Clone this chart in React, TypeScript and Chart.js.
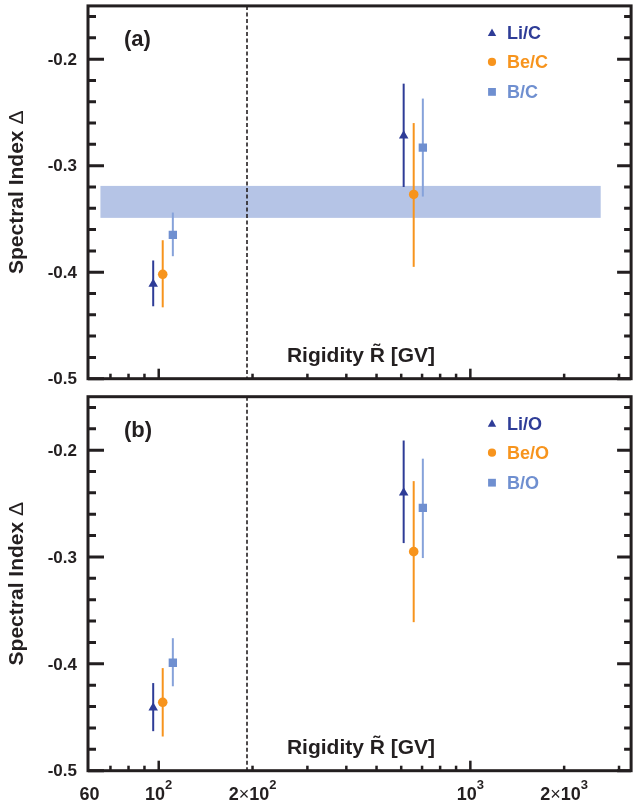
import React, { useEffect, useRef } from 'react';
import { Chart, registerables } from 'chart.js';

Chart.register(...registerables);

const FONT = '"Liberation Sans", Arial, Helvetica, sans-serif';
const INK = '#231f20';
const LI_COLOR = '#2e3c97';
const BE_COLOR = '#f7941d';
const B_COLOR = '#6f8fd0';
const B_BAR_COLOR = '#86a2da';
const BAND_COLOR = '#b5c4e6';

// axes
const X_MIN = 59.3;
const X_MAX = 3280;
const Y_MIN = -0.5;
const Y_MAX = -0.15;
const Y_MAJOR = [-0.5, -0.4, -0.3, -0.2];
const Y_TICK_LABELS = ['-0.5', '-0.4', '-0.3', '-0.2'];
const Y_MINOR = [-0.48, -0.46, -0.44, -0.42, -0.38, -0.36, -0.34, -0.32, -0.28, -0.26, -0.24, -0.22, -0.18, -0.16];
const X_TICK_VALUES = [60, 100, 200, 1000, 2000];
const X_TICK_LABELS = ['60', '10^2', '2×10^2', '10^3', '2×10^3'];
const X_MAJOR_MARKS = [100, 1000];
const X_MINOR_MARKS = [70, 80, 90, 200, 300, 400, 500, 600, 700, 800, 900, 2000, 3000];
const BREAK_RIGIDITY = 192;
const X_TITLE = 'Rigidity R\u0303 [GV]';
const Y_TITLE = 'Spectral Index ';
const Y_TITLE_SYMBOL = 'Δ';

// band in panel (a)
const BAND_X = [65, 2620];
const BAND_Y = [-0.349, -0.319];

// panel (a): ratios to C
const LIC_X = [96, 611];
const LIC_Y = [-0.411, -0.272];
const LIC_LO = [-0.432, -0.320];
const LIC_HI = [-0.389, -0.223];

const BEC_X = [103, 658];
const BEC_Y = [-0.402, -0.327];
const BEC_LO = [-0.433, -0.395];
const BEC_HI = [-0.370, -0.260];

const BC_X = [111, 704];
const BC_Y = [-0.365, -0.283];
const BC_LO = [-0.385, -0.329];
const BC_HI = [-0.344, -0.237];

// panel (b): ratios to O
const LIO_X = [96, 611];
const LIO_Y = [-0.441, -0.240];
const LIO_LO = [-0.463, -0.287];
const LIO_HI = [-0.418, -0.191];

const BEO_X = [103, 658];
const BEO_Y = [-0.436, -0.295];
const BEO_LO = [-0.468, -0.361];
const BEO_HI = [-0.404, -0.229];

const BO_X = [111, 704];
const BO_Y = [-0.399, -0.254];
const BO_LO = [-0.421, -0.301];
const BO_HI = [-0.376, -0.208];

function series(xs: number[], ys: number[], lo: number[], hi: number[]) {
  return xs.map((x, i) => ({ x, y: ys[i], yLo: lo[i], yHi: hi[i] }));
}

function makeDatasets(names: string[], sets: any[][]) {
  const styles = [
    { pointStyle: 'triangle', pointRadius: 5.5, color: LI_COLOR, bar: LI_COLOR },
    { pointStyle: 'circle', pointRadius: 4.8, color: BE_COLOR, bar: BE_COLOR },
    { pointStyle: 'rect', pointRadius: 5.9, color: B_COLOR, bar: B_BAR_COLOR },
  ];
  return names.map((name, i) => ({
    label: name,
    data: sets[i],
    pointStyle: styles[i].pointStyle,
    pointRadius: styles[i].pointRadius,
    pointHoverRadius: styles[i].pointRadius,
    backgroundColor: styles[i].color,
    borderColor: styles[i].color,
    borderWidth: 0,
    showLine: false,
    errorColor: styles[i].bar,
  }));
}

function drawMarker(ctx: CanvasRenderingContext2D, style: string, x: number, y: number, color: string) {
  ctx.fillStyle = color;
  ctx.beginPath();
  if (style === 'triangle') {
    ctx.moveTo(x, y - 4.5);
    ctx.lineTo(x + 4.2, y + 3);
    ctx.lineTo(x - 4.2, y + 3);
    ctx.closePath();
  } else if (style === 'circle') {
    ctx.arc(x, y, 4.1, 0, Math.PI * 2);
  } else {
    ctx.rect(x - 3.9, y - 3.9, 7.8, 7.8);
  }
  ctx.fill();
}

// split "2×10^2" into styled runs
function labelRuns(label: string) {
  const runs: { t: string; font: string; dy: number }[] = [];
  const [main, exp] = label.split('^');
  const parts = main.split('×');
  parts.forEach((p, i) => {
    if (i > 0) runs.push({ t: '×', font: `18px ${FONT}`, dy: 0 });
    if (p) runs.push({ t: p, font: `bold 18px ${FONT}`, dy: 0 });
  });
  if (exp) runs.push({ t: exp, font: `bold 13px ${FONT}`, dy: -10.7 });
  return runs;
}

function makeDecor(panelLabel: string, showBand: boolean, showXLabels: boolean) {
  return {
    id: 'decor',
    beforeDatasetsDraw(chart: any) {
      const { ctx, chartArea: a, scales } = chart;
      const x = scales.x;
      const y = scales.y;
      ctx.save();
      if (showBand) {
        const x0 = x.getPixelForValue(BAND_X[0]);
        const x1 = x.getPixelForValue(BAND_X[1]);
        const y0 = y.getPixelForValue(BAND_Y[1]);
        const y1 = y.getPixelForValue(BAND_Y[0]);
        ctx.fillStyle = BAND_COLOR;
        ctx.fillRect(x0, y0, x1 - x0, y1 - y0);
      }
      // dashed break line
      const bx = x.getPixelForValue(BREAK_RIGIDITY);
      ctx.beginPath();
      ctx.setLineDash([4, 2.5]);
      ctx.lineWidth = 1.6;
      ctx.strokeStyle = INK;
      ctx.moveTo(bx, a.top);
      ctx.lineTo(bx, a.bottom);
      ctx.stroke();
      ctx.setLineDash([]);
      // error bars
      chart.data.datasets.forEach((ds: any) => {
        ctx.strokeStyle = ds.errorColor;
        ctx.lineWidth = 2;
        ds.data.forEach((p: any) => {
          const px = x.getPixelForValue(p.x);
          ctx.beginPath();
          ctx.moveTo(px, y.getPixelForValue(p.yHi));
          ctx.lineTo(px, y.getPixelForValue(p.yLo));
          ctx.stroke();
        });
      });
      ctx.restore();
    },
    afterDraw(chart: any) {
      const { ctx, chartArea: a, scales } = chart;
      const x = scales.x;
      const y = scales.y;
      ctx.save();
      ctx.strokeStyle = INK;
      // y ticks
      ctx.lineWidth = 3;
      const yTick = (v: number, lenL: number, lenR: number) => {
        const py = y.getPixelForValue(v);
        ctx.beginPath();
        ctx.moveTo(a.left, py);
        ctx.lineTo(a.left + lenL, py);
        ctx.moveTo(a.right, py);
        ctx.lineTo(a.right - lenR, py);
        ctx.stroke();
      };
      Y_MAJOR.forEach((v) => yTick(v, 16, 14));
      Y_MINOR.forEach((v) => yTick(v, 8, 7));
      // x ticks
      ctx.lineWidth = 2.5;
      const xTick = (v: number, len: number) => {
        const px = x.getPixelForValue(v);
        ctx.beginPath();
        ctx.moveTo(px, a.bottom);
        ctx.lineTo(px, a.bottom - len);
        ctx.stroke();
      };
      X_MAJOR_MARKS.forEach((v) => xTick(v, 10));
      X_MINOR_MARKS.forEach((v) => xTick(v, 5));
      // frame
      ctx.lineWidth = 3;
      ctx.strokeRect(a.left, a.top, a.right - a.left, a.bottom - a.top);

      ctx.fillStyle = INK;
      // y tick labels
      ctx.font = `bold 17px ${FONT}`;
      ctx.textAlign = 'right';
      ctx.textBaseline = 'middle';
      Y_MAJOR.forEach((v, i) => {
        ctx.fillText(Y_TICK_LABELS[i], a.left - 11, y.getPixelForValue(v) + 1);
      });

      // y title (rotated)
      ctx.save();
      ctx.translate(17, (a.top + a.bottom) / 2);
      ctx.rotate(-Math.PI / 2);
      ctx.textAlign = 'left';
      ctx.textBaseline = 'middle';
      ctx.font = `bold 21px ${FONT}`;
      const w1 = ctx.measureText(Y_TITLE).width;
      ctx.font = `21px ${FONT}`;
      const w2 = ctx.measureText(Y_TITLE_SYMBOL).width;
      const start = -(w1 + w2) / 2;
      ctx.font = `bold 21px ${FONT}`;
      ctx.fillText(Y_TITLE, start, 0);
      ctx.font = `21px ${FONT}`;
      ctx.fillText(Y_TITLE_SYMBOL, start + w1, 0);
      ctx.restore();

      // x tick labels
      if (showXLabels) {
        ctx.textAlign = 'left';
        ctx.textBaseline = 'alphabetic';
        X_TICK_VALUES.forEach((v, i) => {
          const runs = labelRuns(X_TICK_LABELS[i]);
          let total = 0;
          runs.forEach((r) => {
            ctx.font = r.font;
            total += ctx.measureText(r.t).width;
          });
          let cx = x.getPixelForValue(v) - total / 2;
          const base = a.bottom + 29.3;
          runs.forEach((r) => {
            ctx.font = r.font;
            ctx.fillText(r.t, cx, base + r.dy);
            cx += ctx.measureText(r.t).width;
          });
        });
      }

      // panel label
      ctx.font = `bold 22px ${FONT}`;
      ctx.textAlign = 'left';
      ctx.textBaseline = 'middle';
      ctx.fillText(panelLabel, a.left + 36, a.top + 34);

      // x title inside the frame
      ctx.font = `bold 21px ${FONT}`;
      ctx.textAlign = 'center';
      ctx.textBaseline = 'alphabetic';
      ctx.fillText(X_TITLE, a.left + 273, a.bottom - 17);

      // legend
      ctx.font = `bold 18px ${FONT}`;
      ctx.textAlign = 'left';
      ctx.textBaseline = 'middle';
      const rows = [27, 56, 86];
      chart.data.datasets.forEach((ds: any, i: number) => {
        const ly = a.top + rows[i];
        drawMarker(ctx, ds.pointStyle, 492, ly, ds.backgroundColor);
        ctx.fillStyle = ds.backgroundColor;
        ctx.fillText(ds.label, 507, ly + 1);
      });
      ctx.restore();
    },
  };
}

function Panel(props: {
  height: number;
  top: number;
  datasets: any[];
  panelLabel: string;
  showBand: boolean;
  showXLabels: boolean;
  padTop: number;
  padBottom: number;
}) {
  const ref = useRef<HTMLCanvasElement>(null);
  useEffect(() => {
    const { datasets, panelLabel, showBand, showXLabels, padTop, padBottom } = props;
    const chart = new Chart(ref.current as HTMLCanvasElement, {
      type: 'scatter',
      data: { datasets },
      options: {
        responsive: false,
        maintainAspectRatio: false,
        animation: false,
        events: [],
        layout: { padding: { top: padTop, right: 1, bottom: padBottom, left: 0 } },
        plugins: { legend: { display: false }, tooltip: { enabled: false } },
        scales: {
          x: {
            type: 'logarithmic',
            min: X_MIN,
            max: X_MAX,
            display: false,
          },
          y: {
            type: 'linear',
            min: Y_MIN,
            max: Y_MAX,
            grid: { display: false, drawTicks: false },
            border: { display: false },
            ticks: { display: false },
            afterFit: (s: any) => {
              s.width = 88;
              s.paddingTop = 0;
              s.paddingBottom = 0;
            },
          },
        },
      } as any,
      plugins: [makeDecor(panelLabel, showBand, showXLabels)],
    });
    return () => chart.destroy();
  }, []);
  return (
    <canvas
      ref={ref}
      width={637}
      height={props.height}
      style={{ position: 'absolute', left: 0, top: props.top, width: 637, height: props.height, display: 'block' }}
    />
  );
}

export default function App() {
  const dsA = makeDatasets(
    ['Li/C', 'Be/C', 'B/C'],
    [series(LIC_X, LIC_Y, LIC_LO, LIC_HI), series(BEC_X, BEC_Y, BEC_LO, BEC_HI), series(BC_X, BC_Y, BC_LO, BC_HI)]
  );
  const dsB = makeDatasets(
    ['Li/O', 'Be/O', 'B/O'],
    [series(LIO_X, LIO_Y, LIO_LO, LIO_HI), series(BEO_X, BEO_Y, BEO_LO, BEO_HI), series(BO_X, BO_Y, BO_LO, BO_HI)]
  );
  return (
    <div style={{ position: 'absolute', left: 0, top: 0, width: 637, height: 804, background: '#fff' }}>
      <Panel height={390} top={0} datasets={dsA} panelLabel="(a)" showBand={true} showXLabels={false} padTop={5} padBottom={11.3} />
      <Panel height={414} top={390} datasets={dsB} panelLabel="(b)" showBand={false} showXLabels={true} padTop={6.7} padBottom={33.3} />
    </div>
  );
}
